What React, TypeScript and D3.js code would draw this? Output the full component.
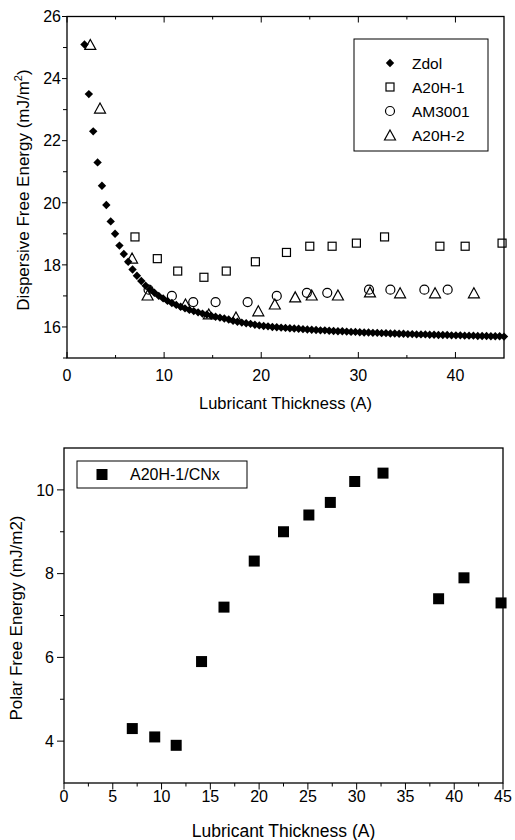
import React from "react";
import * as d3 from "d3";

// ---------- Top chart data ----------
const zdolX = [1.8, 2.25, 2.7, 3.15, 3.6, 4.05, 4.5, 4.95, 5.4, 5.85, 6.3, 6.75, 7.2, 7.65, 8.1, 8.55, 9.0, 9.45, 9.9, 10.35, 10.8, 11.25, 11.7, 12.15, 12.6, 13.05, 13.5, 13.95, 14.4, 14.85, 15.3, 15.75, 16.2, 16.65, 17.1, 17.55, 18.0, 18.45, 18.9, 19.35, 19.8, 20.25, 20.7, 21.15, 21.6, 22.05, 22.5, 22.95, 23.4, 23.85, 24.3, 24.75, 25.2, 25.65, 26.1, 26.55, 27.0, 27.45, 27.9, 28.35, 28.8, 29.25, 29.7, 30.15, 30.6, 31.05, 31.5, 31.95, 32.4, 32.85, 33.3, 33.75, 34.2, 34.65, 35.1, 35.55, 36.0, 36.45, 36.9, 37.35, 37.8, 38.25, 38.7, 39.15, 39.6, 40.05, 40.5, 40.95, 41.4, 41.85, 42.3, 42.75, 43.2, 43.65, 44.1, 44.55, 45.0];
const zdolY = [25.1, 23.5, 22.3, 21.3, 20.55, 19.93, 19.4, 19.0, 18.62, 18.35, 18.1, 17.85, 17.65, 17.48, 17.33, 17.21, 17.1, 17.0, 16.92, 16.84, 16.77, 16.71, 16.65, 16.6, 16.55, 16.51, 16.47, 16.43, 16.4, 16.36, 16.33, 16.3, 16.27, 16.24, 16.2, 16.17, 16.14, 16.12, 16.1, 16.07, 16.05, 16.03, 16.02, 16.0, 15.99, 15.98, 15.97, 15.96, 15.95, 15.94, 15.93, 15.92, 15.91, 15.9, 15.89, 15.89, 15.88, 15.87, 15.86, 15.86, 15.85, 15.84, 15.84, 15.83, 15.82, 15.82, 15.81, 15.81, 15.8, 15.8, 15.79, 15.79, 15.78, 15.78, 15.77, 15.77, 15.76, 15.76, 15.76, 15.75, 15.75, 15.74, 15.74, 15.74, 15.73, 15.73, 15.73, 15.72, 15.72, 15.72, 15.71, 15.71, 15.71, 15.7, 15.7, 15.7, 15.69];

const a20h1X = [7.0, 9.3, 11.4, 14.1, 16.4, 19.4, 22.6, 25.0, 27.3, 29.8, 32.7, 38.4, 41.0, 44.8];
const a20h1Y = [18.9, 18.2, 17.8, 17.6, 17.8, 18.1, 18.4, 18.6, 18.6, 18.7, 18.9, 18.6, 18.6, 18.7];

const am3001X = [8.4, 10.8, 13.0, 15.3, 18.6, 21.6, 24.7, 26.8, 31.1, 33.3, 36.8, 39.2];
const am3001Y = [17.2, 17.0, 16.8, 16.8, 16.8, 17.0, 17.1, 17.1, 17.2, 17.2, 17.2, 17.2];

const a20h2X = [2.4, 3.4, 6.7, 8.3, 12.2, 14.6, 17.4, 19.7, 21.4, 23.5, 25.2, 27.9, 31.2, 34.3, 37.9, 41.9];
const a20h2Y = [25.1, 23.05, 18.22, 17.03, 16.74, 16.42, 16.32, 16.52, 16.74, 16.97, 17.03, 17.03, 17.13, 17.1, 17.1, 17.1];

const topLegend = ["Zdol", "A20H-1", "AM3001", "A20H-2"];
const topXMajor = [0, 10, 20, 30, 40];
const topXMinor = [5, 15, 25, 35];
const topYMajor = [16, 18, 20, 22, 24, 26];
const topYMinor = [15, 17, 19, 21, 23, 25];

// ---------- Bottom chart data ----------
const cnxX = [7.0, 9.3, 11.5, 14.1, 16.4, 19.5, 22.5, 25.1, 27.3, 29.8, 32.7, 38.4, 41.0, 44.8];
const cnxY = [4.3, 4.1, 3.9, 5.9, 7.2, 8.3, 9.0, 9.4, 9.7, 10.2, 10.4, 7.4, 7.9, 7.3];
const bottomLegend = ["A20H-1/CNx"];
const botXMajor = [0, 5, 10, 15, 20, 25, 30, 35, 40, 45];
const botXMinor = [2.5, 7.5, 12.5, 17.5, 22.5, 27.5, 32.5, 37.5, 42.5];
const botYMajor = [4, 6, 8, 10];
const botYMinor = [5, 7, 9];

const FONT = "'Liberation Sans', Arial, sans-serif";

export default function App() {
  // top plot area
  const tL = 67, tR = 504, tT = 16.5, tB = 358;
  const xt = d3.scaleLinear().domain([0, 45]).range([tL, tR]);
  const yt = d3.scaleLinear().domain([15, 26]).range([tB, tT]);
  // bottom plot area
  const bL = 64, bR = 503, bT = 448, bB = 783;
  const xb = d3.scaleLinear().domain([0, 45]).range([bL, bR]);
  const yb = d3.scaleLinear().domain([3, 11]).range([bB, bT]);

  const dd = 4.2;
  const diamond = `M0,${-dd}L${dd},0L0,${dd}L${-dd},0Z`;
  const triPath = (cx: number, cy: number) => {
    const w = 11, h = 10;
    return `M${cx},${cy - h / 2}L${cx + w / 2},${cy + h / 2}L${cx - w / 2},${cy + h / 2}Z`;
  };

  const lw = 1.3;

  return (
    <svg width={515} height={840} style={{ position: "absolute", left: 0, top: 0, background: "#fff" }} fontFamily={FONT}>
      <rect x={0} y={0} width={515} height={840} fill="#fff" />
      {/* ===== TOP CHART ===== */}
      <g>
        {zdolX.map((x, i) => (
          <path key={"z" + i} d={diamond} transform={`translate(${xt(x)},${yt(zdolY[i])})`} fill="#000" />
        ))}
        {a20h1X.map((x, i) => (
          <rect key={"s" + i} x={xt(x) - 4} y={yt(a20h1Y[i]) - 4} width={8} height={8} fill="none" stroke="#000" strokeWidth={1.2} />
        ))}
        {am3001X.map((x, i) => (
          <circle key={"c" + i} cx={xt(x)} cy={yt(am3001Y[i])} r={4.5} fill="none" stroke="#000" strokeWidth={1.2} />
        ))}
        {a20h2X.map((x, i) => (
          <path key={"t" + i} d={triPath(xt(x), yt(a20h2Y[i]))} fill="none" stroke="#000" strokeWidth={1.2} />
        ))}
        <rect x={tL} y={tT} width={tR - tL} height={tB - tT} fill="none" stroke="#000" strokeWidth={lw} />
        {topXMajor.map((v) => (
          <g key={"txm" + v}>
            <line x1={xt(v)} x2={xt(v)} y1={tB} y2={tB - 6} stroke="#000" strokeWidth={1} />
            <line x1={xt(v)} x2={xt(v)} y1={tT} y2={tT + 6} stroke="#000" strokeWidth={1} />
            <text x={xt(v)} y={381} textAnchor="middle" fontSize={16}>{v}</text>
          </g>
        ))}
        {topXMinor.map((v) => (
          <g key={"txn" + v}>
            <line x1={xt(v)} x2={xt(v)} y1={tB} y2={tB - 3} stroke="#000" strokeWidth={1} />
            <line x1={xt(v)} x2={xt(v)} y1={tT} y2={tT + 3} stroke="#000" strokeWidth={1} />
          </g>
        ))}
        {topYMajor.map((v) => (
          <g key={"tym" + v}>
            <line x1={tL - 5} x2={tL} y1={yt(v)} y2={yt(v)} stroke="#000" strokeWidth={1} />
            <text x={61} y={yt(v)} dy="0.36em" textAnchor="end" fontSize={16}>{v}</text>
          </g>
        ))}
        {topYMinor.map((v) => (
          <line key={"tyn" + v} x1={tL - 4} x2={tL} y1={yt(v)} y2={yt(v)} stroke="#000" strokeWidth={1} />
        ))}
        <text x={(tL + tR) / 2} y={409} textAnchor="middle" fontSize={16.5}>Lubricant Thickness (A)</text>
        <text transform={`translate(28.5,190) rotate(-90)`} textAnchor="middle" fontSize={17}>
          Dispersive Free Energy (mJ/m<tspan fontSize={11} dy={-7}>2</tspan><tspan dy={7}>)</tspan>
        </text>
        <rect x={354} y={39} width={134} height={112} fill="#fff" stroke="#000" strokeWidth={1} />
        {topLegend.map((name, i) => {
          const cy = 63 + i * 24;
          const cx = 390;
          let sym: React.ReactNode = null;
          if (i === 0) sym = <path d={diamond} transform={`translate(${cx},${cy})`} fill="#000" />;
          if (i === 1) sym = <rect x={cx - 4} y={cy - 4} width={8} height={8} fill="none" stroke="#000" strokeWidth={1.2} />;
          if (i === 2) sym = <circle cx={cx} cy={cy} r={4.5} fill="none" stroke="#000" strokeWidth={1.2} />;
          if (i === 3) sym = <path d={triPath(cx, cy)} fill="none" stroke="#000" strokeWidth={1.2} />;
          return (
            <g key={name}>
              {sym}
              <text x={412} y={cy} dy="0.36em" fontSize={15.5}>{name}</text>
            </g>
          );
        })}
      </g>

      {/* ===== BOTTOM CHART ===== */}
      <g>
        {cnxX.map((x, i) => (
          <rect key={"b" + i} x={xb(x) - 5.5} y={yb(cnxY[i]) - 5.5} width={11} height={11} fill="#000" />
        ))}
        <rect x={bL} y={bT} width={bR - bL} height={bB - bT} fill="none" stroke="#000" strokeWidth={lw} />
        {botXMajor.map((v) => (
          <g key={"bxm" + v}>
            <line x1={xb(v)} x2={xb(v)} y1={bB} y2={bB + 6.5} stroke="#000" strokeWidth={1} />
            <text x={xb(v)} y={802} textAnchor="middle" fontSize={16}>{v}</text>
          </g>
        ))}
        {botXMinor.map((v) => (
          <line key={"bxn" + v} x1={xb(v)} x2={xb(v)} y1={bB} y2={bB + 3.5} stroke="#000" strokeWidth={1} />
        ))}
        {botYMajor.map((v) => (
          <g key={"bym" + v}>
            <line x1={bL - 7} x2={bL} y1={yb(v)} y2={yb(v)} stroke="#000" strokeWidth={1} />
            <text x={54} y={yb(v)} dy="0.36em" textAnchor="end" fontSize={16}>{v}</text>
          </g>
        ))}
        {botYMinor.map((v) => (
          <line key={"byn" + v} x1={bL - 4} x2={bL} y1={yb(v)} y2={yb(v)} stroke="#000" strokeWidth={1} />
        ))}
        <text x={(bL + bR) / 2} y={837} textAnchor="middle" fontSize={17.5}>Lubricant Thickness (A)</text>
        <text transform={`translate(22,618) rotate(-90)`} textAnchor="middle" fontSize={17}>Polar Free Energy (mJ/m2)</text>
        <rect x={77} y={461} width={170} height={27} fill="#fff" stroke="#000" strokeWidth={1} />
        {bottomLegend.map((name) => (
          <g key={name}>
            <rect x={102 - 5.5} y={474.5 - 5.5} width={11} height={11} fill="#000" />
            <text x={130} y={474.5} dy="0.36em" fontSize={16}>{name}</text>
          </g>
        ))}
      </g>
    </svg>
  );
}
